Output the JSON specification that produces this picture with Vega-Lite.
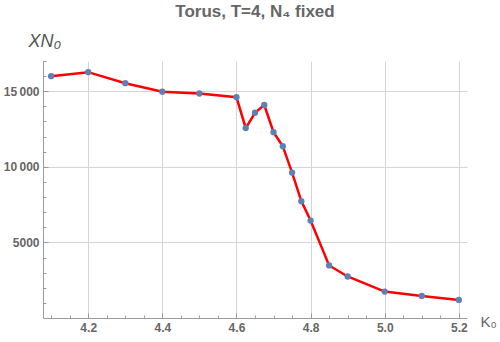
{
  "$schema": "https://vega.github.io/schema/vega-lite/v6.json",
  "autosize": "none",
  "width": 424,
  "height": 257,
  "padding": {"left": 43, "top": 61, "right": 33, "bottom": 24},
  "background": "white",
  "config": {
    "view": {"stroke": null},
    "font": "Liberation Sans"
  },
  "title": {
    "text": "Torus, T=4, N₄ fixed",
    "fontSize": 17,
    "fontWeight": "bold",
    "color": "#666666",
    "font": "Liberation Sans",
    "offset": 11,
    "anchor": "middle"
  },
  "data": {
    "values": [
      {"K0": 4.1, "X": 15997},
      {"K0": 4.2, "X": 16262},
      {"K0": 4.3, "X": 15531},
      {"K0": 4.4, "X": 14973},
      {"K0": 4.5, "X": 14850},
      {"K0": 4.6, "X": 14601},
      {"K0": 4.625, "X": 12561},
      {"K0": 4.65, "X": 13577},
      {"K0": 4.675, "X": 14090},
      {"K0": 4.7, "X": 12295},
      {"K0": 4.725, "X": 11365},
      {"K0": 4.75, "X": 9617},
      {"K0": 4.775, "X": 7729},
      {"K0": 4.8, "X": 6446},
      {"K0": 4.85, "X": 3476},
      {"K0": 4.9, "X": 2745},
      {"K0": 5.0, "X": 1748},
      {"K0": 5.1, "X": 1462},
      {"K0": 5.2, "X": 1196}
    ]
  },
  "layer": [
    {
      "mark": {"type": "line", "color": "#FF0000", "strokeWidth": 2.5},
      "encoding": {
        "x": {
          "field": "K0", "type": "quantitative",
          "scale": {"domain": [4.078, 5.222], "nice": false, "zero": false},
          "axis": {
            "orient": "bottom",
            "values": [4.2, 4.4, 4.6, 4.8, 5.0, 5.2],
            "format": ".1f",
            "grid": true, "gridColor": "#d4d4d4", "gridWidth": 1,
            "domainColor": "#9a9a9a", "domainWidth": 1,
            "tickColor": "#9a9a9a", "tickSize": -5,
            "labelPadding": 9,
            "labelFont": "Liberation Sans", "labelFontSize": 12, "labelFontWeight": "bold", "labelColor": "#666666",
            "title": "K₀",
            "titleFont": "Liberation Sans", "titleFontSize": 15, "titleFontWeight": "normal", "titleColor": "#666666",
            "titleAngle": 0, "titleAlign": "left", "titleBaseline": "middle",
            "titleX": 437, "titleY": 3
          }
        },
        "y": {
          "field": "X", "type": "quantitative",
          "scale": {"domain": [0, 17000], "nice": false},
          "axis": {
            "orient": "left",
            "values": [5000, 10000, 15000],
            "labelExpr": "datum.value >= 10000 ? replace(format(datum.value, ','), ',', '\u2009') : format(datum.value, 'd')",
            "grid": true, "gridColor": "#d4d4d4", "gridWidth": 1,
            "domainColor": "#9a9a9a", "domainWidth": 1,
            "tickColor": "#9a9a9a", "tickSize": -5,
            "labelPadding": 9,
            "labelFont": "Liberation Sans", "labelFontSize": 12, "labelFontWeight": "bold", "labelColor": "#666666",
            "title": "XN₀",
            "titleFont": "Liberation Sans", "titleFontSize": 18, "titleFontWeight": "normal", "titleFontStyle": "italic", "titleColor": "#555555",
            "titleAngle": 0, "titleAlign": "left", "titleBaseline": "alphabetic",
            "titleX": -15, "titleY": -15
          }
        }
      }
    },
    {
      "mark": {"type": "point", "filled": true, "color": "#5E81B5", "size": 40, "opacity": 1},
      "encoding": {
        "x": {
          "field": "K0", "type": "quantitative",
          "axis": {
            "orient": "bottom",
            "values": [4.1, 4.15, 4.25, 4.3, 4.35, 4.45, 4.5, 4.55, 4.65, 4.7, 4.75, 4.85, 4.9, 4.95, 5.05, 5.1, 5.15],
            "labels": false, "grid": false, "domain": false,
            "tickColor": "#9a9a9a", "tickSize": -3, "title": null
          }
        },
        "y": {
          "field": "X", "type": "quantitative",
          "axis": {
            "orient": "left",
            "values": [1000, 2000, 3000, 4000, 6000, 7000, 8000, 9000, 11000, 12000, 13000, 14000, 16000, 17000],
            "labels": false, "grid": false, "domain": false,
            "tickColor": "#9a9a9a", "tickSize": -3, "title": null
          }
        }
      }
    }
  ],
  "resolve": {"axis": {"x": "independent", "y": "independent"}}
}
